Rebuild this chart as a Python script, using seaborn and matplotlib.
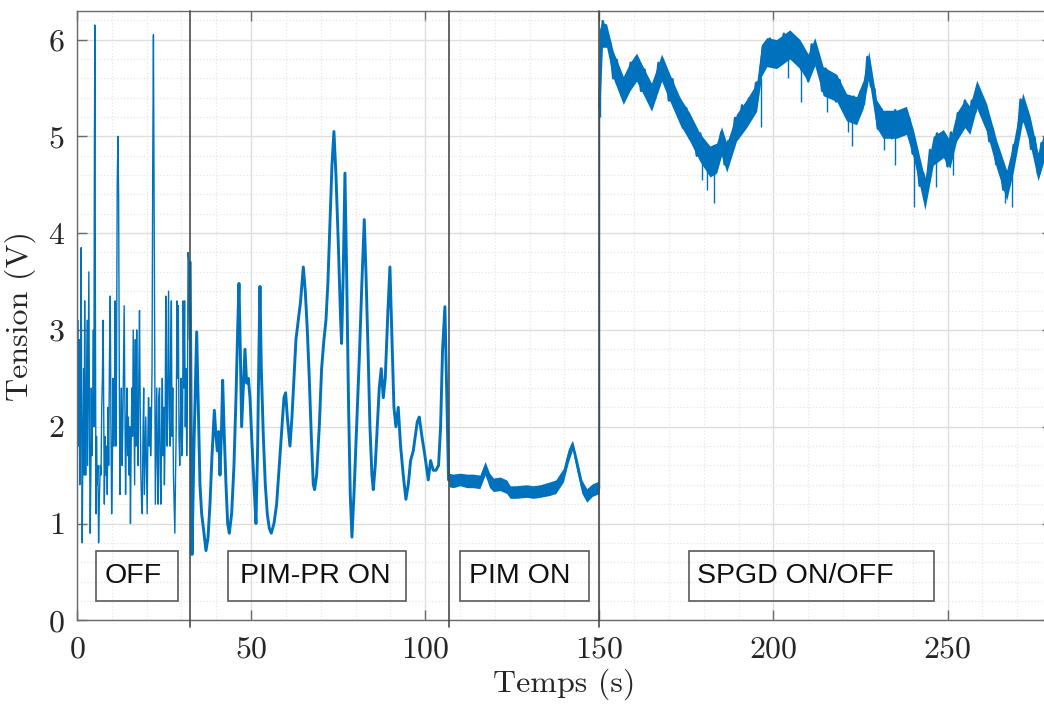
import numpy as np
import pandas as pd
import seaborn as sns
import matplotlib.pyplot as plt
from matplotlib.patches import Rectangle
from matplotlib.ticker import MultipleLocator

# --- données ---
# OFF
t_off = [0.0, 0.2, 0.45, 0.6, 0.8, 1.0, 1.2, 1.35, 1.5, 1.7,
         1.9, 2.05, 2.2, 2.35, 2.5, 2.7, 2.9, 3.05, 3.2, 3.4,
         3.6, 3.8, 4.0, 4.1, 4.3, 4.5, 4.7, 4.85, 5.0, 5.15,
         5.3, 5.45, 5.6, 5.8, 6.0, 6.2, 6.45, 6.7, 6.9, 7.1,
         7.3, 7.5, 7.7, 7.85, 8.05, 8.3, 8.5, 8.7, 8.9, 9.1,
         9.3, 9.55, 9.75, 9.95, 10.15, 10.35, 10.55, 10.75, 10.95, 11.15,
         11.35, 11.55, 11.75, 11.95, 12.15, 12.35, 12.55, 12.75, 12.95, 13.15,
         13.35, 13.55, 13.75, 13.95, 14.15, 14.35, 14.55, 14.75, 14.95, 15.15,
         15.35, 15.55, 15.75, 15.95, 16.15, 16.35, 16.55, 16.75, 16.95, 17.15,
         17.35, 17.55, 17.75, 17.95, 18.15, 18.35, 18.55, 18.75, 18.95, 19.15,
         19.35, 19.55, 19.75, 19.95, 20.15, 20.35, 20.55, 20.75, 20.95, 21.15,
         21.35, 21.55, 21.75, 21.95, 22.1, 22.3, 22.5, 22.7, 22.9, 23.1,
         23.3, 23.5, 23.7, 23.9, 24.1, 24.3, 24.5, 24.7, 24.9, 25.1,
         25.3, 25.5, 25.7, 25.9, 26.1, 26.3, 26.5, 26.7, 26.9, 27.1,
         27.3, 27.5, 27.7, 27.9, 28.1, 28.3, 28.5, 28.7, 28.9, 29.1,
         29.3, 29.5, 29.7, 29.9, 30.1, 30.3, 30.5, 30.7, 30.9, 31.1,
         31.3, 31.5, 31.7, 31.9, 32.1, 32.3, 32.5]
v_off = [2.2, 3.1, 1.8, 2.9, 1.4, 2.4, 3.85, 2.0, 0.8, 1.9,
         2.6, 1.5, 3.3, 2.1, 1.5, 2.3, 3.1, 1.6, 2.5, 3.6,
         1.9, 0.9, 1.6, 2.4, 1.7, 2.2, 3.0, 2.0, 4.9, 6.15,
         3.0, 1.1, 1.9, 1.4, 1.6, 0.8, 1.3, 1.6, 1.5, 2.2,
         2.5, 3.1, 2.0, 1.2, 1.9, 1.5, 1.8, 1.3, 2.2, 1.6,
         2.6, 3.35, 2.0, 1.1, 1.6, 2.5, 1.8, 2.2, 3.3, 1.8,
         2.6, 4.5, 5.0, 4.4, 2.5, 1.3, 1.9, 2.4, 1.6, 2.0,
         2.6, 3.25, 2.2, 1.3, 1.9, 2.4, 1.7, 2.1, 1.5, 2.0,
         1.0, 1.8, 2.4, 1.9, 3.0, 2.2, 1.4, 2.9, 1.8, 3.0,
         2.0, 1.6, 2.5, 3.2, 2.2, 1.5, 1.2, 1.1, 1.9, 2.4,
         1.3, 1.7, 2.1, 1.6, 1.1, 1.9, 2.3, 1.8, 2.2, 1.7,
         2.0, 2.6, 4.7, 6.05, 4.8, 3.0, 1.2, 1.8, 2.4, 1.6,
         1.2, 2.3, 2.4, 1.5, 1.2, 2.0, 2.5, 1.7, 2.2, 1.4,
         1.9, 3.35, 2.3, 1.8, 2.6, 3.4, 2.1, 1.8, 2.8, 3.3,
         1.9, 2.4, 1.5, 1.2, 0.9, 1.5, 2.0, 3.3, 2.5, 3.25,
         1.9, 1.6, 2.0, 2.5, 1.7, 1.9, 3.3, 2.4, 3.3, 2.0,
         2.6, 1.7, 2.2, 3.8, 3.7, 2.9, 3.7]

# PIM-PR ON
t_pr = [32.5, 33.03, 33.60, 34.37, 34.84, 35.32, 35.80, 36.47, 37.04, 37.62,
        38.19, 38.77, 39.44, 39.92, 40.30, 40.68, 41.06, 41.45, 41.83, 42.21,
        42.79, 43.27, 43.74, 44.41, 45.08, 45.66, 46.14, 46.52, 46.90, 47.28,
        47.76, 48.24, 48.72, 49.20, 49.68, 50.16, 50.83, 51.40, 51.88, 52.26,
        52.55, 52.93, 53.51, 54.08, 54.65, 55.23, 55.80, 56.57, 57.33, 58.10,
        58.86, 59.44, 59.92, 60.40, 61.16, 61.74, 62.31, 62.88, 63.55, 64.22,
        64.99, 65.56, 66.14, 66.71, 67.29, 67.86, 68.24, 68.82, 69.58, 70.25,
        70.92, 71.50, 72.07, 72.65, 73.22, 73.79, 74.37, 75.04, 75.71, 75.99,
        76.47, 76.95, 77.43, 78.00, 78.48, 78.96, 79.54, 80.30, 81.07, 81.83,
        82.50, 82.98, 83.65, 84.13, 84.70, 85.09, 85.66, 86.23, 86.81, 87.38,
        87.96, 88.53, 89.30, 89.87, 90.45, 91.02, 91.59, 92.26, 92.93, 93.70,
        94.46, 95.13, 95.80, 96.57, 97.72, 98.29, 99.06, 99.92, 100.88, 101.55,
        102.31, 103.08, 103.84, 104.42, 104.99, 105.66, 106.14, 106.71]
v_pr = [3.7, 0.68, 1.8, 2.98, 2.2, 1.4, 1.1, 0.9, 0.72, 0.85,
        1.2, 1.7, 2.17, 1.9, 1.75, 1.95, 1.5, 1.9, 2.48, 2.0,
        1.4, 1.0, 0.9, 1.1, 1.6, 2.3, 3.0, 3.48, 2.8, 2.0,
        2.4, 2.8, 2.45, 2.5, 2.3, 1.9, 1.4, 1.0, 1.8, 2.8,
        3.45, 2.6, 1.9, 1.4, 1.1, 0.95, 0.9, 1.0, 1.2, 1.6,
        2.0, 2.3, 2.35, 2.1, 1.8, 2.1, 2.5, 2.9, 3.1, 3.3,
        3.65, 3.4, 3.0, 2.5, 1.9, 1.4, 1.35, 1.5, 2.0, 2.6,
        2.9, 3.1, 3.5, 4.1, 4.7, 5.05, 4.6, 3.9, 3.1, 2.86,
        3.6, 4.62, 3.6, 2.2, 1.3, 0.86, 1.3, 2.0, 2.7, 3.5,
        4.14, 3.6, 2.7, 2.0, 1.5, 1.35, 1.6, 2.0, 2.4, 2.6,
        2.3, 2.5, 3.2, 3.65, 2.9, 2.2, 2.0, 2.2, 1.8, 1.5,
        1.25, 1.4, 1.65, 1.75, 2.05, 2.1, 1.9, 1.7, 1.45, 1.65,
        1.55, 1.55, 1.6, 2.0, 2.8, 3.24, 2.4, 1.45]

# PIM ON (bande de bruit)
t_pim = [106.8, 108.0, 110.0, 112.0, 113.8, 115.7, 117.2, 118.5, 119.6, 121.5, 123.4, 124.4, 126.0,
         129.1, 131.0, 133.0, 135.8, 137.5, 139.7, 141.1, 142.3, 143.5, 145.0, 146.4, 148.0, 150.0]
c_pim = [1.45, 1.44, 1.46, 1.44, 1.44, 1.43, 1.58, 1.45, 1.40, 1.41, 1.38, 1.33, 1.32,
         1.33, 1.32, 1.33, 1.36, 1.38, 1.50, 1.70, 1.82, 1.62, 1.38, 1.29, 1.34, 1.37]
lo_pim = [1.38, 1.37, 1.39, 1.37, 1.37, 1.36, 1.50, 1.37, 1.33, 1.34, 1.31, 1.26, 1.26,
          1.27, 1.26, 1.27, 1.29, 1.31, 1.43, 1.63, 1.76, 1.55, 1.31, 1.22, 1.28, 1.31]
hi_pim = [1.52, 1.51, 1.52, 1.51, 1.51, 1.50, 1.64, 1.52, 1.47, 1.48, 1.45, 1.39, 1.39,
          1.40, 1.39, 1.40, 1.43, 1.45, 1.57, 1.77, 1.86, 1.69, 1.45, 1.36, 1.41, 1.44]

# SPGD ON/OFF (bande de bruit)
t_sp = [150.0, 150.7, 152.1, 154.0, 156.9, 158.8, 160.7, 163.1, 165.0, 167.9, 170.3, 173.2, 176.0, 178.9,
        181.8, 183.7, 185.1, 186.6, 189.4, 192.3, 195.2, 196.6, 198.1, 200.9, 204.7, 207.6, 210.0, 211.9,
        214.3, 218.2, 221.0, 223.9, 225.8, 227.4, 229.6, 231.5, 235.4, 238.2, 240.2, 243.0, 243.5, 245.9,
        248.8, 250.7, 252.6, 255.0, 256.4, 258.4, 261.2, 264.1, 267.0, 268.9, 271.6, 273.7, 276.0, 278.0]
hi_sp = [6.10, 6.18, 6.16, 5.88, 5.62, 5.76, 5.86, 5.68, 5.55, 5.85, 5.64, 5.40, 5.24, 5.03,
         4.90, 4.93, 5.10, 4.93, 5.23, 5.38, 5.55, 5.95, 6.02, 6.00, 6.10, 6.00, 5.85, 6.02,
         5.72, 5.64, 5.44, 5.41, 5.58, 5.88, 5.38, 5.27, 5.27, 5.31, 5.07, 4.64, 4.55, 5.00,
         5.07, 4.96, 5.24, 5.38, 5.31, 5.58, 5.34, 4.96, 4.65, 4.93, 5.45, 5.21, 4.83, 5.07]
lo_sp = [5.30, 5.92, 5.92, 5.60, 5.33, 5.47, 5.57, 5.40, 5.26, 5.57, 5.36, 5.12, 4.95, 4.74,
         4.58, 4.62, 4.80, 4.63, 4.95, 5.09, 5.26, 5.62, 5.72, 5.70, 5.80, 5.70, 5.56, 5.73,
         5.42, 5.36, 5.16, 5.12, 5.29, 5.60, 5.09, 4.98, 4.98, 5.02, 4.78, 4.33, 4.24, 4.70,
         4.78, 4.67, 4.95, 5.09, 5.02, 5.29, 5.05, 4.67, 4.34, 4.63, 5.16, 4.92, 4.54, 4.78]
# trace fine échantillonnée à 1 s dans la phase SPGD
t_sw = list(range(150, 279))
v_sw = [5.30, 6.19, 5.94, 5.99, 5.60, 5.79, 5.47, 5.59, 5.43, 5.76,
        5.57, 5.79, 5.47, 5.69, 5.40, 5.52, 5.39, 5.76, 5.60, 5.69,
        5.37, 5.59, 5.28, 5.39, 5.09, 5.29, 4.98, 5.12, 4.80, 5.03,
        4.76, 4.90, 4.62, 4.90, 4.73, 5.04, 4.71, 4.95, 4.87, 5.19,
        5.01, 5.32, 5.12, 5.39, 5.21, 5.55, 5.57, 5.93, 5.76, 6.01,
        5.75, 5.95, 5.74, 6.06, 5.87, 6.06, 5.78, 6.00, 5.69, 5.85,
        5.57, 5.95, 5.80, 5.84, 5.47, 5.70, 5.43, 5.62, 5.36, 5.58,
        5.29, 5.42, 5.17, 5.41, 5.16, 5.46, 5.33, 5.82, 5.52, 5.49,
        5.08, 5.28, 5.01, 5.22, 4.98, 5.27, 5.06, 5.27, 5.04, 5.19,
        4.82, 4.89, 4.49, 4.62, 4.50, 4.86, 4.74, 5.03, 4.80, 4.97,
        4.69, 5.04, 4.94, 5.24, 5.06, 5.37, 5.07, 5.37, 5.25, 5.50,
        5.20, 5.32, 4.95, 5.08, 4.71, 4.81, 4.45, 4.64, 4.57, 4.91,
        4.92, 5.38, 5.15, 5.24, 4.87, 4.99, 4.61, 4.93, 4.80]
# pics isolés dans la bande SPGD
t_spk = [150.2, 179.5, 181.0, 183.0, 196.3, 204.2, 208.0, 215.5, 221.5, 222.6, 231.8, 234.8, 240.3,
         246.6, 251.5, 266.5, 268.6]
spk_bot = [5.20, 4.55, 4.45, 4.31, 5.10, 5.60, 5.35, 5.25, 5.05, 4.90, 4.86, 4.70, 4.27,
           4.48, 4.60, 4.31, 4.27]
spk_top = [5.90, 4.85, 4.75, 4.70, 5.60, 5.90, 5.80, 5.50, 5.30, 5.25, 5.15, 5.05, 4.90,
           4.85, 4.85, 4.50, 4.70]

# séparations des phases et étiquettes
t_phases = [32.5, 106.8, 150.0]
labels = ['OFF', 'PIM-PR ON', 'PIM ON', 'SPGD ON/OFF']
box_x0 = [5.5, 43.4, 110.0, 175.8]
box_x1 = [29.0, 94.5, 147.0, 246.1]
txt_x = [8.0, 46.8, 112.6, 178.1]

blue = '#0072BD'
grey = '#262626'

sns.set_theme(style='white')
plt.rcParams['font.family'] = ['cmr10', 'DejaVu Serif']
plt.rcParams['axes.formatter.use_mathtext'] = True

fig = plt.figure(figsize=(10.44, 7.06), dpi=100)
ax = fig.add_axes([77 / 1044, (706 - 620.3) / 706, 280 * 3.482 / 1044, 609.3 / 706])

# grille façon MATLAB
ax.xaxis.set_major_locator(MultipleLocator(50))
ax.xaxis.set_minor_locator(MultipleLocator(10))
ax.yaxis.set_major_locator(MultipleLocator(1))
ax.yaxis.set_minor_locator(MultipleLocator(0.2))
ax.grid(which='major', color='#dedede', lw=1.0, ls='-')
ax.grid(which='minor', color='#e6e6e6', lw=0.9, ls=':')
ax.set_axisbelow(True)

sns.lineplot(x=t_off, y=v_off, ax=ax, color=blue, lw=1.0, sort=False, estimator=None)
sns.lineplot(x=t_pr, y=v_pr, ax=ax, color=blue, lw=2.1, sort=False, estimator=None)
ax.fill_between(t_pim, lo_pim, hi_pim, color=blue, lw=0)
sns.lineplot(x=t_pim, y=c_pim, ax=ax, color=blue, lw=1.4, sort=False, estimator=None)
ax.plot([t_pim[-1], t_sw[0]], [c_pim[-1], v_sw[0]], color=blue, lw=1.0)
ax.fill_between(t_sp, lo_sp, hi_sp, color=blue, lw=0)
sns.lineplot(x=t_sw, y=v_sw, ax=ax, color=blue, lw=1.8, sort=False, estimator=None)
ax.vlines(t_spk, spk_bot, spk_top, color=blue, lw=1.0)

# lignes verticales de séparation
for tp in t_phases:
    ax.plot([tp, tp], [-0.07, 6.3], color='#4a4a4a', lw=1.2, clip_on=False, zorder=5)

# cadres de texte
for lab, x0, x1, tx in zip(labels, box_x0, box_x1, txt_x):
    ax.add_patch(Rectangle((x0, 0.2), x1 - x0, 0.516, fill=False, ec='#5a5a5a', lw=1.2, zorder=6))
    ax.text(tx, 0.458, lab, fontsize=20.5, family='Liberation Sans', color='#111111',
            va='center', ha='left', zorder=7)

ax.set_xlim(0, 280)
ax.set_ylim(0, 6.295)
ax.set_xticks([0, 50, 100, 150, 200, 250])
ax.set_yticks([0, 1, 2, 3, 4, 5, 6])

for side in ['left', 'bottom', 'top', 'right']:
    ax.spines[side].set_visible(True)
    ax.spines[side].set_color('#6a6a6a')
    ax.spines[side].set_linewidth(1.0)
ax.tick_params(which='major', direction='in', length=7, width=1.0, color='#6a6a6a',
               labelsize=23, labelcolor=grey, top=True, right=True, bottom=True, left=True)
ax.tick_params(axis='x', pad=11)
ax.tick_params(axis='y', pad=9)
ax.tick_params(which='minor', length=0)

ax.set_xlabel('Temps (s)', fontsize=23, color=grey, labelpad=4)
ax.set_ylabel('Tension (V)', fontsize=23, color=grey, labelpad=8)

fig.savefig('out.png', dpi=100)
